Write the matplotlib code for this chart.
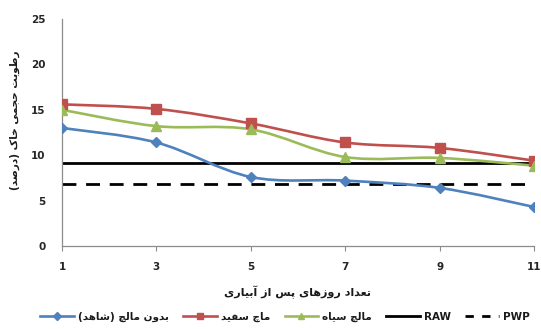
import matplotlib
matplotlib.use("Agg")
import matplotlib.pyplot as plt
from matplotlib.path import Path
from matplotlib.patches import PathPatch
from matplotlib.lines import Line2D
import numpy as np

# ---- data -------------------------------------------------------------
days = [1, 3, 5, 7, 9, 11]
no_mulch = [13.0, 11.4, 7.6, 7.2, 6.4, 4.3]       # بدون مالچ (شاهد)
white_mulch = [15.6, 15.1, 13.5, 11.4, 10.8, 9.4]  # ماچ سفید
black_mulch = [15.0, 13.2, 12.85, 9.8, 9.7, 8.85]  # مالچ سیاه
raw_level = 9.1
pwp_level = 6.8
y_ticks = [0, 5, 10, 15, 20, 25]

y_title = "رطوبت حجمی خاک (درصد)"
x_title = "تعداد روزهای پس از آبیاری"
series_names = ["بدون مالچ (شاهد)", "ماچ سفید", "مالچ سیاه", "RAW", "PWP"]

# ---- minimal Persian shaping (presentation forms + RTL ordering) ----------
# forms: (isolated, final, initial, medial); two entries -> right-joining only
FORMS = {
    "ا": (0xFE8D, 0xFE8E), "آ": (0xFE81, 0xFE82),
    "د": (0xFEA9, 0xFEAA), "ر": (0xFEAD, 0xFEAE),
    "ز": (0xFEAF, 0xFEB0), "و": (0xFEED, 0xFEEE),
    "ب": (0xFE8F, 0xFE90, 0xFE91, 0xFE92), "پ": (0xFB56, 0xFB57, 0xFB58, 0xFB59),
    "ت": (0xFE95, 0xFE96, 0xFE97, 0xFE98), "ج": (0xFE9D, 0xFE9E, 0xFE9F, 0xFEA0),
    "چ": (0xFB7A, 0xFB7B, 0xFB7C, 0xFB7D), "ح": (0xFEA1, 0xFEA2, 0xFEA3, 0xFEA4),
    "خ": (0xFEA5, 0xFEA6, 0xFEA7, 0xFEA8), "س": (0xFEB1, 0xFEB2, 0xFEB3, 0xFEB4),
    "ش": (0xFEB5, 0xFEB6, 0xFEB7, 0xFEB8), "ص": (0xFEB9, 0xFEBA, 0xFEBB, 0xFEBC),
    "ط": (0xFEC1, 0xFEC2, 0xFEC3, 0xFEC4), "ع": (0xFEC9, 0xFECA, 0xFECB, 0xFECC),
    "ف": (0xFED1, 0xFED2, 0xFED3, 0xFED4), "ک": (0xFB8E, 0xFB8F, 0xFB90, 0xFB91),
    "ل": (0xFEDD, 0xFEDE, 0xFEDF, 0xFEE0), "م": (0xFEE1, 0xFEE2, 0xFEE3, 0xFEE4),
    "ن": (0xFEE5, 0xFEE6, 0xFEE7, 0xFEE8),
    "ه": (0xFEE9, 0xFEEA, 0xFEEB, 0xFEEC), "ی": (0xFBFC, 0xFBFD, 0xFBFE, 0xFBFF),
}


def rtl(text):
    if all(c not in FORMS for c in text):
        return text
    out = []
    n = len(text)
    for i, c in enumerate(text):
        if c not in FORMS:
            out.append(c)
            continue
        f = FORMS[c]
        prev_c = text[i - 1] if i > 0 else None
        next_c = text[i + 1] if i < n - 1 else None
        join_prev = prev_c in FORMS and len(FORMS[prev_c]) == 4
        join_next = len(f) == 4 and next_c in FORMS
        if join_prev and join_next:
            out.append(chr(f[3]))
        elif join_prev:
            out.append(chr(f[1]))
        elif join_next:
            out.append(chr(f[2]))
        else:
            out.append(chr(f[0]))
    mirror = {"(": ")", ")": "("}
    return "".join(mirror.get(c, c) for c in reversed(out))


def smooth_path(x, y):
    """Cubic Bezier path through the points (Catmull-Rom style tangents)."""
    pts = np.column_stack([x, y]).astype(float)
    verts = [pts[0]]
    codes = [Path.MOVETO]
    for i in range(len(pts) - 1):
        p0 = pts[i - 1] if i > 0 else pts[i]
        p1, p2 = pts[i], pts[i + 1]
        p3 = pts[i + 2] if i + 2 < len(pts) else pts[i + 1]
        c1 = p1 + (p2 - p0) / 6.0
        c2 = p2 - (p3 - p1) / 6.0
        verts += [c1, c2, p2]
        codes += [Path.CURVE4] * 3
    return Path(verts, codes)


# ---- figure ----------------------------------------------------------
plt.rcParams["font.family"] = ["DejaVu Sans"]
fig = plt.figure(figsize=(5.41, 3.29), dpi=100)
ax = fig.add_axes([62 / 541, 83 / 329, (534 - 62) / 541, (310 - 83) / 329])

blue, red, green = "#4F81BD", "#C0504D", "#9BBB59"
styles = [
    (no_mulch, blue, "D", 5.5),
    (white_mulch, red, "s", 6.5),
    (black_mulch, green, "^", 7),
]
for vals, col, mk, ms in styles:
    ax.add_patch(PathPatch(smooth_path(days, vals), fill=False, edgecolor=col,
                           lw=1.9, zorder=3, capstyle="round"))
    ax.plot(days, vals, linestyle="none", marker=mk, ms=ms, color=col,
            markeredgecolor=col, zorder=4)

ax.plot([days[0], days[-1]], [raw_level, raw_level], color="black", lw=2.0, zorder=2)
ax.plot([days[0], days[-1]], [pwp_level, pwp_level], color="black", lw=2.0,
        dashes=(5, 3.5), zorder=2)

ax.set_xlim(days[0], days[-1])
ax.set_ylim(0, 25)
ax.set_xticks(days)
ax.set_yticks(y_ticks)
for s in ["top", "right"]:
    ax.spines[s].set_visible(False)
for s in ["left", "bottom"]:
    ax.spines[s].set_color("#8c8c8c")
    ax.spines[s].set_linewidth(0.9)
ax.tick_params(axis="x", length=3.5, color="#8c8c8c", pad=8, labelsize=7.5)
ax.tick_params(axis="y", length=0, pad=12, labelsize=7.5)
for lab in ax.get_xticklabels() + ax.get_yticklabels():
    lab.set_fontweight("bold")
    lab.set_color("#262626")

fig.text(298 / 541, 1 - 292 / 329, rtl(x_title), ha="center", va="center",
         fontsize=8, fontweight="bold", color="#1a1a1a")
fig.text(15 / 541, 1 - 120 / 329, rtl(y_title), ha="center", va="center",
         rotation=90, fontsize=7.5, fontweight="bold", color="#1a1a1a")

handles = [
    Line2D([], [], color=blue, lw=1.9, marker="D", ms=4),
    Line2D([], [], color=red, lw=1.9, marker="s", ms=5),
    Line2D([], [], color=green, lw=1.9, marker="^", ms=5),
    Line2D([], [], color="black", lw=2.0),
    Line2D([], [], color="black", lw=2.0, dashes=(3, 3)),
]
leg = fig.legend(handles, [rtl(t) for t in series_names], loc="center",
                 bbox_to_anchor=(285 / 541, 1 - 317 / 329), ncol=5, frameon=False,
                 handlelength=3.2, handletextpad=0.4, columnspacing=1.4,
                 prop={"size": 7.5, "weight": "bold"})
for t in leg.get_texts():
    t.set_color("#1a1a1a")

fig.savefig("out.png", dpi=100)
